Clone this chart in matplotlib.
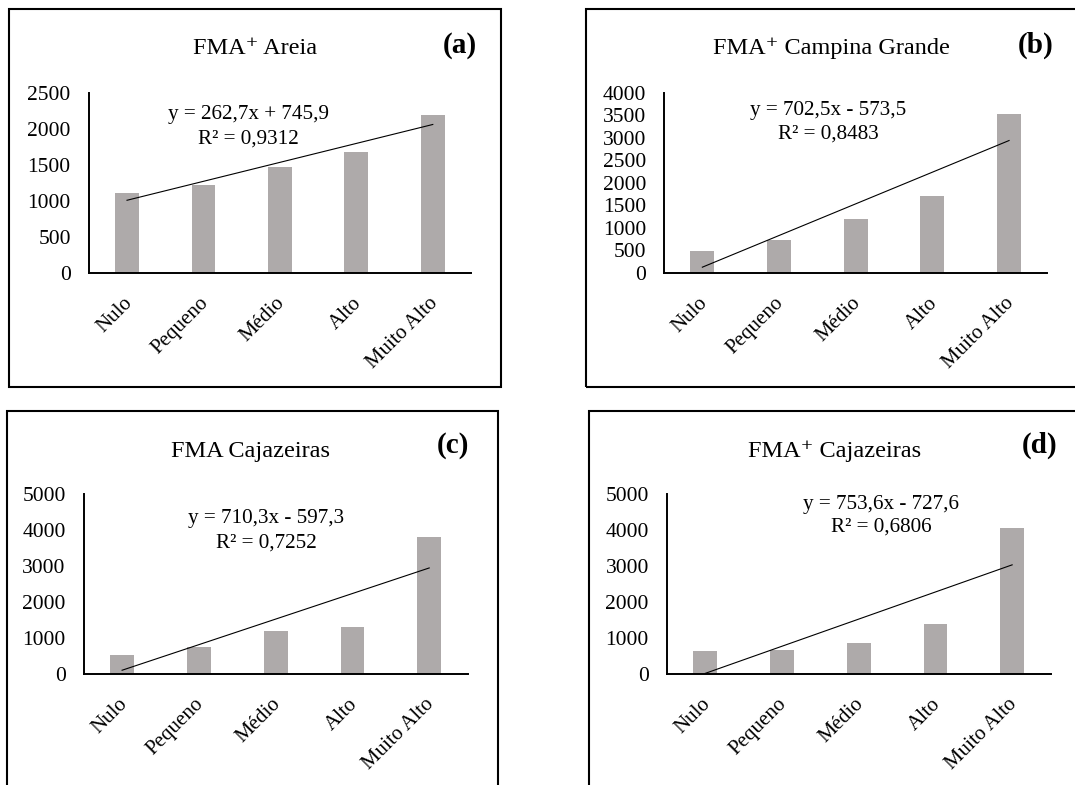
import numpy as np
import matplotlib.pyplot as plt
from matplotlib.patches import Rectangle
from matplotlib.transforms import ScaledTranslation

plt.rcParams['font.family'] = ['Liberation Serif', 'DejaVu Serif']

W, H = 1075, 785

categories = ['Nulo', 'Pequeno', 'Médio', 'Alto', 'Muito Alto']

# abundance per class, one list per site
areia = [1113, 1216, 1475, 1678, 2196]
campina = [495, 740, 1200, 1710, 3525]
cajazeiras = [545, 772, 1207, 1320, 3822]
cajazeiras_plus = [660, 665, 880, 1395, 4066]

titles = ['FMA⁺ Areia', 'FMA⁺ Campina Grande', 'FMA Cajazeiras', 'FMA⁺ Cajazeiras']
letters = ['(a)', '(b)', '(c)', '(d)']
slopes = [262.7, 702.5, 710.3, 753.6]
intercepts = [745.9, -573.5, -597.3, -727.6]
r2 = ['0,9312', '0,8483', '0,7252', '0,6806']
ymax = [2500, 4000, 5000, 5000]
ystep = [500, 500, 1000, 1000]

series = [areia, campina, cajazeiras, cajazeiras_plus]

# layout in pixels (left, right, bottom, top) of each plot area
axes_px = [(88.8, 471, 273, 92.7), (664, 1047.4, 273, 92.7),
           (83.7, 467.6, 674.3, 494.3), (666.9, 1050.5, 674.3, 494.3)]
# frame boxes (x0, y0, x1, y1) in pixels from the top-left corner
boxes_px = [(9, 9, 501, 387), (585.7, 9, 1090, 387),
            (7, 411, 497.7, 800), (589, 411, 1090, 800)]
title_px = [(254.8, 54), (831, 54), (250.4, 457), (834.6, 457)]
letter_px = [(460, 53), (1036, 53), (452.8, 453), (1039.5, 453)]
eq_px = [(248, 119.5, 143.5), (828.4, 115, 138.5),
         (266, 523.5, 547.5), (881, 508.5, 532)]

BAR = '#AEAAAA'


def fx(x):
    return x / W


def fy(y):
    return 1 - y / H


fig = plt.figure(figsize=(W / 100, H / 100), dpi=100)
label_shift = ScaledTranslation(-0.045, -0.04, fig.dpi_scale_trans)

for i in range(4):
    l, r, b, t = axes_px[i]
    ax = fig.add_axes([fx(l), fy(b), fx(r) - fx(l), fy(t) - fy(b)])
    x = np.arange(len(categories))
    ax.bar(x, series[i], width=0.31, color=BAR, zorder=1)
    trend = [slopes[i] * (k + 1) + intercepts[i] for k in x]
    ax.plot(x, trend, color='black', lw=0.8, zorder=2)

    ax.set_xlim(-0.5, 4.5)
    ax.set_ylim(0, ymax[i])
    ax.set_yticks(np.arange(0, ymax[i] + 1, ystep[i]))
    ax.set_yticks([ymax[i]], minor=True)
    ax.tick_params(axis='y', which='major', length=0, pad=13, labelsize=15.5)
    ax.tick_params(axis='y', which='minor', direction='in', length=5, width=1.4)
    ax.set_xticks(x)
    ax.set_xticklabels(categories, rotation=45, ha='right', va='top',
                       rotation_mode='anchor', fontsize=15)
    ax.tick_params(axis='x', length=0, pad=12)
    for lab in ax.get_xticklabels():
        lab.set_transform(lab.get_transform() + label_shift)
    for s in ['top', 'right']:
        ax.spines[s].set_visible(False)
    for s in ['left', 'bottom']:
        ax.spines[s].set_linewidth(1.4)
    ax.patch.set_visible(False)

    # frame around the panel
    x0, y0, x1, y1 = boxes_px[i]
    fig.patches.append(Rectangle((fx(x0), fy(y1)), fx(x1) - fx(x0), fy(y0) - fy(y1),
                                 transform=fig.transFigure, fill=False,
                                 edgecolor='black', lw=1.5))

    tx, ty = title_px[i]
    fig.text(fx(tx), fy(ty), titles[i], ha='center', va='baseline', fontsize=17.5)
    lx, ly = letter_px[i]
    fig.text(fx(lx), fy(ly), letters[i], ha='center', va='baseline',
             fontsize=21, fontweight='bold')

    ex, e1, e2 = eq_px[i]
    sign = '+' if intercepts[i] >= 0 else '-'
    eq = 'y = {}x {} {}'.format(f'{slopes[i]:.1f}'.replace('.', ','), sign,
                                f'{abs(intercepts[i]):.1f}'.replace('.', ','))
    fig.text(fx(ex), fy(e1), eq, ha='center', va='baseline', fontsize=15.2)
    fig.text(fx(ex), fy(e2), 'R² = ' + r2[i], ha='center', va='baseline', fontsize=15.2)

fig.savefig('out.png', dpi=100)
